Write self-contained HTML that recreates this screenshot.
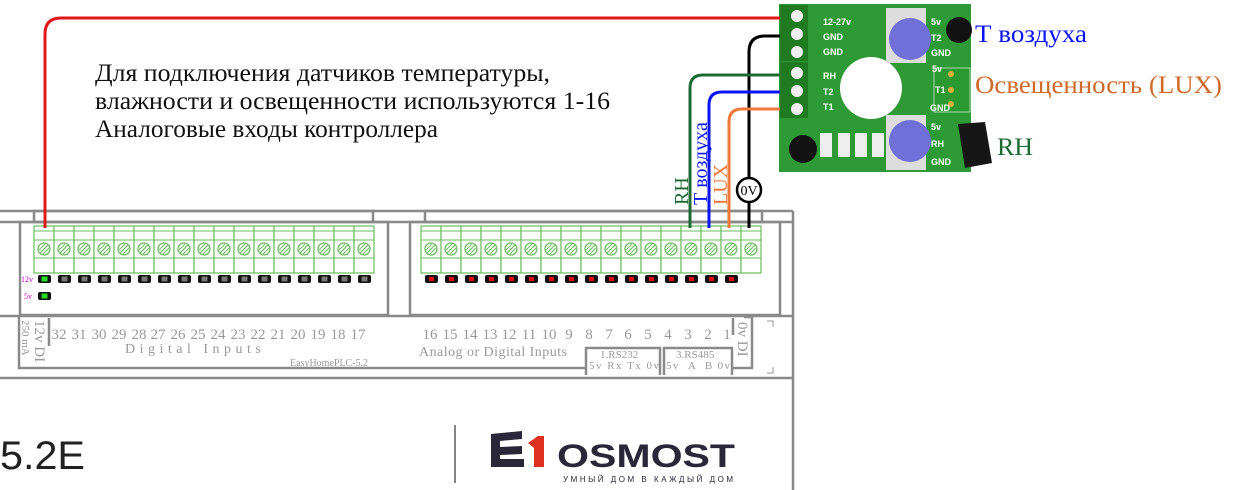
<!DOCTYPE html>
<html><head><meta charset="utf-8"><style>
body{margin:0;background:#fff;width:1233px;height:490px;overflow:hidden}
svg{display:block}
.s{font-family:"Liberation Serif",serif}
</style></head><body>
<svg width="1233" height="490" viewBox="0 0 1233 490" xmlns="http://www.w3.org/2000/svg">
<defs>
<g id="t">
<rect x="0" y="226" width="20" height="47" fill="#fff" stroke="#6bbd5e" stroke-width="1.2"/>
<line x1="0" y1="231" x2="20" y2="231" stroke="#6bbd5e"/>
<line x1="0" y1="240" x2="20" y2="240" stroke="#6bbd5e"/>
<line x1="0" y1="258" x2="20" y2="258" stroke="#6bbd5e"/>
<circle cx="10" cy="249" r="6" fill="none" stroke="#6bbd5e" stroke-width="1.3"/>
<line x1="6" y1="253" x2="14" y2="245" stroke="#6bbd5e" stroke-width="1.2"/>
<line x1="5" y1="250" x2="11" y2="244" stroke="#6bbd5e" stroke-width="1"/>
<line x1="9" y1="254" x2="15" y2="248" stroke="#6bbd5e" stroke-width="1"/>
</g>
<g id="lg"><rect x="4" y="275" width="13" height="8" rx="2" fill="#111"/><rect x="7.5" y="276.5" width="6" height="5" fill="#777"/></g>
<g id="lr"><rect x="4" y="275" width="13" height="8" rx="2" fill="#111"/><rect x="8" y="277" width="5" height="4" fill="#e00"/></g>
</defs>

<g fill="none" stroke="#8a8a8a" stroke-width="2.5">
<line x1="0" y1="211" x2="793" y2="211"/>
<line x1="793" y1="211" x2="793" y2="490"/>
<rect x="34" y="211" width="339" height="11"/>
<rect x="425" y="211" width="337" height="11"/>
<line x1="0" y1="222" x2="793" y2="222"/>
<rect x="20" y="222" width="368" height="93"/>
<rect x="410" y="222" width="370" height="93"/>
<line x1="0" y1="316" x2="793" y2="316"/>
<polyline points="19,316 19,368 586,368"/>
<line x1="0" y1="378" x2="793" y2="378"/>
<line x1="49" y1="318" x2="49" y2="346"/>
<polyline points="586,375 586,348 660,348 660,375"/>
<polyline points="664,375 664,348 732,348 732,375"/>
<line x1="733" y1="318" x2="733" y2="335"/>
<polyline points="744,317 752,317 752,368 733,368"/>
</g>
<g fill="none" stroke="#999" stroke-width="1"><polyline points="767,321 773,321 773,327"/><polyline points="767,373 773,373 773,367"/></g>

<g>
<use href="#t" x="34"/><use href="#t" x="54"/><use href="#t" x="74"/><use href="#t" x="94"/><use href="#t" x="114"/><use href="#t" x="134"/><use href="#t" x="154"/><use href="#t" x="174"/><use href="#t" x="194"/><use href="#t" x="214"/><use href="#t" x="234"/><use href="#t" x="254"/><use href="#t" x="274"/><use href="#t" x="294"/><use href="#t" x="314"/><use href="#t" x="334"/><use href="#t" x="354"/>
</g>
<g>
<use href="#lg" x="34"/><use href="#lg" x="54"/><use href="#lg" x="74"/><use href="#lg" x="94"/><use href="#lg" x="114"/><use href="#lg" x="134"/><use href="#lg" x="154"/><use href="#lg" x="174"/><use href="#lg" x="194"/><use href="#lg" x="214"/><use href="#lg" x="234"/><use href="#lg" x="254"/><use href="#lg" x="274"/><use href="#lg" x="294"/><use href="#lg" x="314"/><use href="#lg" x="334"/><use href="#lg" x="354"/>
</g>
<rect x="41.5" y="276.5" width="6" height="5" fill="#2d2"/>
<rect x="38" y="292" width="13" height="8" rx="2" fill="#111"/><rect x="41.5" y="293.5" width="6" height="5" fill="#2d2"/>
<text x="21" y="282" font-size="8" fill="#c0c" class="s">12v</text>
<text x="24" y="299" font-size="8" fill="#c0c" class="s">5v</text>

<g>
<use href="#t" x="421"/><use href="#t" x="441"/><use href="#t" x="461"/><use href="#t" x="481"/><use href="#t" x="501"/><use href="#t" x="521"/><use href="#t" x="541"/><use href="#t" x="561"/><use href="#t" x="581"/><use href="#t" x="601"/><use href="#t" x="621"/><use href="#t" x="641"/><use href="#t" x="661"/><use href="#t" x="681"/><use href="#t" x="701"/><use href="#t" x="721"/><use href="#t" x="741"/>
</g>
<g>
<use href="#lr" x="421"/><use href="#lr" x="441"/><use href="#lr" x="461"/><use href="#lr" x="481"/><use href="#lr" x="501"/><use href="#lr" x="521"/><use href="#lr" x="541"/><use href="#lr" x="561"/><use href="#lr" x="581"/><use href="#lr" x="601"/><use href="#lr" x="621"/><use href="#lr" x="641"/><use href="#lr" x="661"/><use href="#lr" x="681"/><use href="#lr" x="701"/><use href="#lr" x="721"/>
</g>

<g class="s" fill="#999" font-size="15" text-anchor="middle">
<text x="59" y="339">32</text><text x="79" y="339">31</text><text x="99" y="339">30</text><text x="119" y="339">29</text><text x="139" y="339">28</text><text x="158" y="339">27</text><text x="178" y="339">26</text><text x="198" y="339">25</text><text x="218" y="339">24</text><text x="238" y="339">23</text><text x="258" y="339">22</text><text x="278" y="339">21</text><text x="298" y="339">20</text><text x="318" y="339">19</text><text x="338" y="339">18</text><text x="358" y="339">17</text>
<text x="430" y="339">16</text><text x="450" y="339">15</text><text x="470" y="339">14</text><text x="490" y="339">13</text><text x="509" y="339">12</text><text x="529" y="339">11</text><text x="549" y="339">10</text><text x="569" y="339">9</text><text x="589" y="339">8</text><text x="609" y="339">7</text><text x="628" y="339">6</text><text x="648" y="339">5</text><text x="668" y="339">4</text><text x="688" y="339">3</text><text x="708" y="339">2</text><text x="727" y="339">1</text>
</g>
<g class="s" fill="#999" font-size="14">
<text x="125" y="353" letter-spacing="4.5">Digital Inputs</text>
<text x="419" y="356" textLength="148">Analog or Digital Inputs</text>
<text x="290" y="366" font-size="10">EasyHomePLC-5.2</text>
<text x="600" y="358" font-size="11">1.RS232</text>
<text x="589" y="369" font-size="11" textLength="70">5v Rx Tx 0v</text>
<text x="676" y="358" font-size="11">3.RS485</text>
<text x="666" y="369" font-size="11" textLength="64">5v &#160;A &#160;B 0v</text>
<text transform="translate(35,320) rotate(90)" font-size="15">12v DI</text>
<text transform="translate(22,320) rotate(90)" font-size="11">250 mA</text>
<text transform="translate(738,322) rotate(90)" font-size="15">0v DI</text>
</g>

<g class="s" font-size="25" fill="#111">
<text x="95" y="81" textLength="455" lengthAdjust="spacingAndGlyphs">Для подключения датчиков температуры,</text>
<text x="95" y="109" textLength="515" lengthAdjust="spacingAndGlyphs">влажности и освещенности используются 1-16</text>
<text x="95" y="137" textLength="343" lengthAdjust="spacingAndGlyphs">Аналоговые входы контроллера</text>
</g>

<rect x="779" y="4" width="192" height="168" fill="#2e9a35"/>
<rect x="780" y="5" width="28" height="56" fill="#1f7a22"/>
<rect x="780" y="62" width="28" height="56" fill="#1f7a22"/>
<g fill="#f0f0f0"><circle cx="797" cy="16" r="6"/><circle cx="797" cy="34" r="6"/><circle cx="797" cy="52" r="6"/><circle cx="797" cy="73" r="6"/><circle cx="797" cy="91" r="6"/><circle cx="797" cy="109" r="6"/></g>
<circle cx="871" cy="88" r="31" fill="#fff"/>
<rect x="886" y="8" width="40" height="55" fill="#ddd"/>
<rect x="886" y="115" width="40" height="55" fill="#ddd"/>
<circle cx="910" cy="39" r="21" fill="#7070d8"/>
<circle cx="910" cy="141" r="21" fill="#7070d8"/>
<rect x="934" y="68" width="36" height="44" fill="#2a9a30" stroke="#fff" stroke-width="0.6"/>
<g fill="#e0b040"><circle cx="951" cy="74" r="3"/><circle cx="951" cy="90" r="3"/><circle cx="951" cy="104" r="3"/></g>
<circle cx="959" cy="30" r="13" fill="#111"/>
<circle cx="803" cy="149" r="14" fill="#111"/>
<path d="M958 124 L985 122 L992 163 L965 168 Z" fill="#151515"/>
<g fill="#eee"><rect x="820" y="133" width="12" height="24"/><rect x="838" y="133" width="12" height="24"/><rect x="855" y="133" width="12" height="24"/><rect x="872" y="133" width="12" height="24"/></g>
<g fill="#fff" font-family="Liberation Sans,sans-serif" font-size="9" font-weight="bold">
<text x="823" y="25">12-27v</text><text x="823" y="40">GND</text><text x="823" y="55">GND</text>
<text x="823" y="79">RH</text><text x="823" y="95">T2</text><text x="823" y="110">T1</text>
<text x="932" y="72">5v</text><text x="935" y="93">T1</text><text x="930" y="111">GND</text>
<text x="931" y="25">5v</text><text x="931" y="41">T2</text><text x="931" y="56">GND</text>
<text x="931" y="130">5v</text><text x="931" y="147">RH</text><text x="931" y="165">GND</text>
</g>

<g fill="none" stroke-width="3">
<path d="M45 228 V34 Q45 18 61 18 H780" stroke="#e01818"/>
<path d="M749 228 V52 Q749 36 765 36 H780" stroke="#000"/>
<path d="M690 228 V88 Q690 75 703 75 H780" stroke="#1c6b35"/>
<path d="M709 228 V105 Q709 92 722 92 H780" stroke="#0a14f0"/>
<path d="M729 228 V122 Q729 109 742 109 H780" stroke="#f07838"/>
</g>
<circle cx="749" cy="190" r="12" fill="#fff" stroke="#000" stroke-width="2.5"/>
<text x="749" y="195" text-anchor="middle" class="s" font-size="14">0V</text>
<g class="s" font-size="20">
<text transform="translate(688,205) rotate(-90)" fill="#1c6b35">RH</text>
<text transform="translate(707,205) rotate(-90)" fill="#0a14f0">Т воздуха</text>
<text transform="translate(727,205) rotate(-90)" fill="#f07838">LUX</text>
</g>

<g class="s" font-size="25">
<text x="975" y="42" fill="#0a14f0" textLength="112" lengthAdjust="spacingAndGlyphs">Т воздуха</text>
<text x="975" y="93" fill="#d06a28" textLength="247" lengthAdjust="spacingAndGlyphs">Освещенность (LUX)</text>
<text x="997" y="155" fill="#1c6b35" textLength="36" lengthAdjust="spacingAndGlyphs">RH</text>
</g>

<text x="0" y="469" font-family="Liberation Sans,sans-serif" font-size="40" fill="#222" textLength="85" lengthAdjust="spacingAndGlyphs">5.2E</text>
<line x1="455" y1="425" x2="455" y2="483" stroke="#333" stroke-width="1.2"/>
<path d="M491 434 L522 431 L522 439 L500 441 V447 L522 446 V454 L500 455 V459 L524 459 V467 L491 467 Z" fill="#2a2838"/>
<path d="M528 443 L538 436 H544 V467 H534 V448 Z" fill="#e03020"/>
<text x="557" y="467" font-family="Liberation Sans,sans-serif" font-size="32" font-weight="bold" fill="#2a2838" textLength="178" lengthAdjust="spacingAndGlyphs">OSMOST</text>
<text x="563" y="482" font-family="Liberation Sans,sans-serif" font-size="8" fill="#2a2838" textLength="170">УМНЫЙ ДОМ В КАЖДЫЙ ДОМ</text>
</svg>
</body></html>
